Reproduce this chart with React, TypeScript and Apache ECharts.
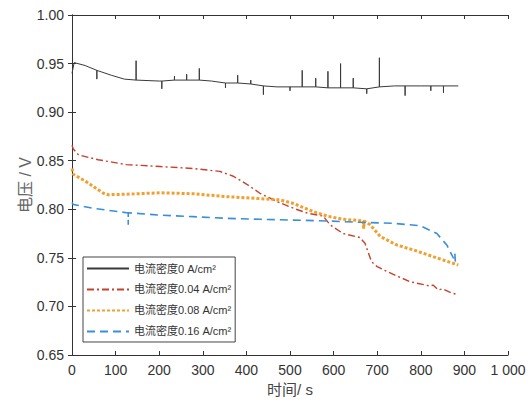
import React, { useEffect, useRef } from "react";
import * as echarts from "echarts";

const seriesNames = [
  "电流密度0 A/cm²",
  "电流密度0.04 A/cm²",
  "电流密度0.08 A/cm²",
  "电流密度0.16 A/cm²",
];

const xTicks = [0, 100, 200, 300, 400, 500, 600, 700, 800, 900, 1000];

// [time s, voltage V]
const d0: [number, number][] = [
  [0, 0.94], [5, 0.951], [30, 0.948], [57, 0.943], [57, 0.934], [57, 0.943],
  [90, 0.938], [120, 0.934], [147, 0.933], [147, 0.953], [147, 0.933],
  [200, 0.932], [206, 0.932], [206, 0.924], [206, 0.932], [235, 0.933], [235, 0.937], [235, 0.933],
  [263, 0.933], [263, 0.939], [263, 0.933], [292, 0.933], [292, 0.945], [292, 0.933],
  [320, 0.932], [352, 0.93], [352, 0.925], [352, 0.93], [380, 0.93], [380, 0.938], [380, 0.93],
  [410, 0.929], [410, 0.933], [410, 0.929], [439, 0.927], [439, 0.918], [439, 0.927],
  [470, 0.926], [500, 0.926], [500, 0.922], [500, 0.926], [528, 0.926], [528, 0.943], [528, 0.926],
  [559, 0.926], [559, 0.935], [559, 0.926], [587, 0.925], [587, 0.942], [587, 0.925],
  [616, 0.925], [616, 0.95], [616, 0.925], [645, 0.925], [645, 0.935], [645, 0.925],
  [676, 0.924], [676, 0.919], [676, 0.924], [705, 0.926], [705, 0.956], [705, 0.926],
  [740, 0.927], [764, 0.927], [764, 0.917], [764, 0.927], [800, 0.927],
  [823, 0.927], [823, 0.922], [823, 0.927], [852, 0.927], [852, 0.92], [852, 0.927], [886, 0.927],
];

const d004: [number, number][] = [
  [0, 0.866], [3, 0.862], [15, 0.856], [60, 0.851], [125, 0.846], [202, 0.844], [278, 0.842],
  [339, 0.839], [370, 0.834], [400, 0.826], [431, 0.8165], [470, 0.808], [508, 0.801],
  [540, 0.796], [576, 0.793], [592, 0.784], [622, 0.775], [660, 0.771], [672, 0.765],
  [687, 0.746], [700, 0.741], [722, 0.736], [775, 0.7255], [821, 0.721], [828, 0.722],
  [840, 0.717], [850, 0.718], [870, 0.714], [886, 0.712],
];

const d008: [number, number][] = [
  [0, 0.842], [3, 0.836], [34, 0.828], [72, 0.8165], [83, 0.815], [125, 0.8155], [202, 0.817],
  [278, 0.816], [355, 0.813], [431, 0.811], [477, 0.8097], [508, 0.806], [554, 0.7975],
  [585, 0.793], [622, 0.7897], [668, 0.788], [669, 0.78], [670, 0.788], [684, 0.784],
  [707, 0.772], [745, 0.7632], [784, 0.758], [830, 0.751], [886, 0.7426],
];

const d016: [number, number][] = [
  [0, 0.807], [3, 0.805], [49, 0.801], [125, 0.7965], [129, 0.7965], [129, 0.784], [129, 0.7965],
  [202, 0.794], [278, 0.7924], [355, 0.7907], [431, 0.7897], [585, 0.788], [660, 0.7866],
  [737, 0.7856], [799, 0.783], [837, 0.775], [860, 0.763], [875, 0.7496], [878, 0.755], [880, 0.741],
];

const colors = ["#3a3a3a", "#c8402a", "#f0a030", "#3b8fd8"];

export default function App() {
  const ref = useRef<HTMLDivElement>(null);
  useEffect(() => {
    if (!ref.current) return;
    const chart = echarts.init(ref.current, undefined, { renderer: "svg" });
    const font = "'Liberation Sans', Arial, 'Noto Sans CJK SC', sans-serif";
    const axisLine = { show: true, lineStyle: { color: "#333", width: 1 } };
    const tick = { show: true, inside: true, length: 4, lineStyle: { color: "#333" } };
    chart.setOption({
      animation: false,
      textStyle: { fontFamily: font },
      grid: { left: 72, right: 23, top: 15, bottom: 47 },
      legend: {
        orient: "vertical",
        left: 83,
        top: 257,
        data: seriesNames,
        itemWidth: 42,
        itemHeight: 10,
        itemGap: 10,
        borderColor: "#444",
        borderWidth: 1,
        backgroundColor: "#fff",
        padding: [6, 4, 5, 3],
        itemStyle: { opacity: 0 },
        textStyle: { fontSize: 11, color: "#333", fontFamily: font },
      },
      xAxis: [
        {
          type: "value",
          min: 0,
          max: 1000,
          interval: 100,
          axisLine,
          axisTick: tick,
          splitLine: { show: false },
          axisLabel: {
            fontSize: 14,
            color: "#333",
            margin: 8,
            formatter: (v: number) => (v === xTicks[xTicks.length - 1] ? "1 000" : String(v)),
          },
          name: "时间/ s",
          nameLocation: "middle",
          nameGap: 27,
          nameMoveOverlap: false,
          nameTextStyle: { fontSize: 15, color: "#444" },
        },
        {
          type: "value",
          position: "top",
          min: 0,
          max: 1000,
          interval: 100,
          axisLine,
          axisTick: tick,
          axisLabel: { show: false },
          splitLine: { show: false },
        },
      ],
      yAxis: [
        {
          type: "value",
          min: 0.65,
          max: 1.0,
          interval: 0.05,
          axisLine,
          axisTick: tick,
          splitLine: { show: false },
          axisLabel: {
            fontSize: 14,
            color: "#333",
            margin: 8,
            formatter: (v: number) => v.toFixed(2),
          },
          name: "电压 / V",
          nameLocation: "middle",
          nameGap: 39,
          nameMoveOverlap: false,
          nameTextStyle: { fontSize: 16, color: "#666" },
        },
        {
          type: "value",
          position: "right",
          min: 0.65,
          max: 1.0,
          interval: 0.05,
          axisLine,
          axisTick: tick,
          axisLabel: { show: false },
          splitLine: { show: false },
        },
      ],
      series: [
        {
          name: seriesNames[0],
          type: "line",
          data: d0,
          symbol: "none",
          color: colors[0],
          lineStyle: { width: 1, color: colors[0] },
        },
        {
          name: seriesNames[1],
          type: "line",
          data: d004,
          symbol: "none",
          color: colors[1],
          lineStyle: { width: 1.4, color: colors[1], type: [7, 3, 2, 3] },
        },
        {
          name: seriesNames[2],
          type: "line",
          data: d008,
          symbol: "none",
          color: colors[2],
          lineStyle: { width: 3, color: colors[2], type: [3, 2] },
        },
        {
          name: seriesNames[3],
          type: "line",
          data: d016,
          symbol: "none",
          color: colors[3],
          lineStyle: { width: 1.6, color: colors[3], type: [8, 5] },
        },
      ],
    });
    return () => chart.dispose();
  }, []);
  return <div ref={ref} style={{ width: 531, height: 402, position: "absolute", left: 0, top: 0 }} />;
}
